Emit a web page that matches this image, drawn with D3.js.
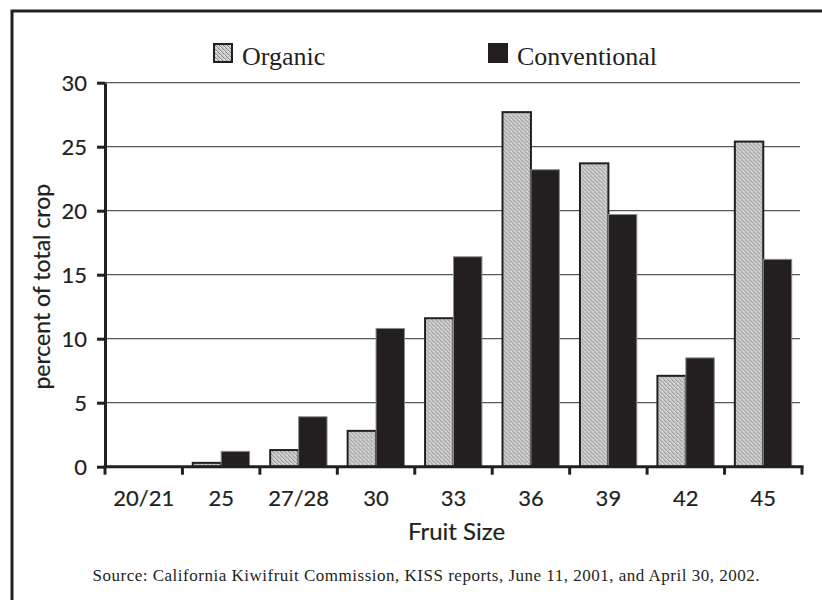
<!DOCTYPE html>
<html>
<head>
<meta charset="utf-8">
<script src="https://cdn.jsdelivr.net/npm/d3@7"></script>
<style>
  body { margin: 0; background: #fff; }
  svg { display: block; }
  .tick text, .title { font-family: Lato, sans-serif; fill: #231f20; stroke: #231f20; stroke-width: 0.2px; }
  .tick text { font-size: 22px; }
</style>
</head>
<body>
<svg id="chart" width="822" height="600"></svg>
<script>
// fruit size categories and percent of total crop
var sizes = ['20/21', '25', '27/28', '30', '33', '36', '39', '42', '45'];
var organic = [0, 0.3, 1.3, 2.8, 11.6, 27.7, 23.7, 7.1, 25.4];
var conventional = [0, 1.2, 3.9, 10.8, 16.4, 23.2, 19.7, 8.5, 16.2];
var series = ['Organic', 'Conventional'];
var yTicks = [0, 5, 10, 15, 20, 25, 30];

var ink = '#231f20';
var svg = d3.select('#chart');

var margin = {left: 105, right: 20, top: 82.7, bottom: 133.3};
var width = 822 - margin.left - margin.right;
var height = 600 - margin.top - margin.bottom;

// organic fill texture
var defs = svg.append('defs');
var pat = defs.append('pattern')
  .attr('id', 'stipple')
  .attr('patternUnits', 'userSpaceOnUse')
  .attr('width', 4)
  .attr('height', 4);
pat.append('rect').attr('width', 4).attr('height', 4).attr('fill', '#d0d0d0');
pat.append('path').attr('d', 'M0,0L4,4M-1,3L1,5M3,-1L5,1')
  .attr('stroke', '#828282').attr('stroke-width', 1);
pat.append('rect').attr('x', 3).attr('y', 0).attr('width', 1).attr('height', 1).attr('fill', '#fff');

// frame
svg.append('path')
  .attr('d', 'M12,600V11H822')
  .attr('fill', 'none')
  .attr('stroke', ink)
  .attr('stroke-width', 3);

var g = svg.append('g').attr('transform', 'translate(' + margin.left + ',' + margin.top + ')');

var x = d3.scaleBand().domain(sizes).range([0, width]).paddingInner(0).paddingOuter(0);
var x1 = d3.scaleBand().domain(series).range([10.3, x.bandwidth() - 10.3]);
var y = d3.scaleLinear().domain([0, 30]).range([height, 0]);

// gridlines
g.selectAll('.grid')
  .data(yTicks.filter(function(d) { return d > 0; }))
  .enter().append('line')
  .attr('class', 'grid')
  .attr('x1', 0)
  .attr('x2', width - 2)
  .attr('y1', y)
  .attr('y2', y)
  .attr('stroke', '#58595b')
  .attr('stroke-width', 1.2);

// bars
var groups = g.selectAll('.group')
  .data(sizes)
  .enter().append('g')
  .attr('class', 'group')
  .attr('transform', function(d) { return 'translate(' + x(d) + ',0)'; });

groups.append('rect')
  .filter(function(d, i) { return organic[i] > 0; })
  .attr('x', x1('Organic'))
  .attr('width', x1.bandwidth())
  .attr('y', function(d) { return y(organic[sizes.indexOf(d)]); })
  .attr('height', function(d) { return height - y(organic[sizes.indexOf(d)]); })
  .attr('fill', 'url(#stipple)')
  .attr('stroke', ink)
  .attr('stroke-width', 2);

groups.append('rect')
  .filter(function(d, i) { return conventional[i] > 0; })
  .attr('x', x1('Conventional'))
  .attr('width', x1.bandwidth())
  .attr('y', function(d) { return y(conventional[sizes.indexOf(d)]); })
  .attr('height', function(d) { return height - y(conventional[sizes.indexOf(d)]); })
  .attr('fill', ink)
  .attr('stroke', '#8a8a8a')
  .attr('stroke-width', 1);

// y axis
var yAxis = d3.axisLeft(y).tickValues(yTicks).tickSize(8).tickSizeOuter(0).tickPadding(10);
var ya = g.append('g').call(yAxis);
ya.select('.domain').attr('stroke', ink).attr('stroke-width', 3);
ya.selectAll('.tick line').attr('stroke', ink).attr('stroke-width', 3);
ya.selectAll('.tick text').attr('dy', '0.36em');

// x axis, labels centred in bands, ticks at band edges
var xAxis = d3.axisBottom(x).tickSize(0).tickPadding(24);
var xa = g.append('g').attr('transform', 'translate(0,' + height + ')').call(xAxis);
xa.select('.domain').remove();
xa.append('line')
  .attr('x1', -1.5).attr('x2', width + 1.5)
  .attr('stroke', ink).attr('stroke-width', 3);
xa.selectAll('.edge')
  .data(sizes.map(function(d) { return x(d); }).concat([width]))
  .enter().append('line')
  .attr('class', 'edge')
  .attr('x1', function(d) { return d; })
  .attr('x2', function(d) { return d; })
  .attr('y1', 0).attr('y2', 8)
  .attr('stroke', ink).attr('stroke-width', 3);

// axis titles
g.append('text')
  .attr('class', 'title')
  .attr('x', width / 2 + 3)
  .attr('y', height + 73)
  .attr('text-anchor', 'middle')
  .attr('font-size', 24)
  .text('Fruit Size');

g.append('text')
  .attr('class', 'title')
  .attr('transform', 'translate(-55,' + (height / 2 + 12) + ') rotate(-90)')
  .attr('text-anchor', 'middle')
  .attr('font-size', 23)
  .text('percent of total crop');

// legend
var legendX = [213, 488];
var legend = svg.selectAll('.legend')
  .data(series)
  .enter().append('g')
  .attr('class', 'legend')
  .attr('transform', function(d, i) { return 'translate(' + legendX[i] + ',43)'; });

legend.append('rect')
  .attr('x', 1).attr('y', 1)
  .attr('width', 18).attr('height', 18)
  .attr('fill', function(d) { return d === 'Organic' ? 'url(#stipple)' : ink; })
  .attr('stroke', ink)
  .attr('stroke-width', 2);

legend.append('text')
  .attr('x', 29)
  .attr('y', 22)
  .attr('font-family', '"Liberation Serif", serif')
  .attr('font-size', 26)
  .attr('fill', ink)
  .text(function(d) { return d; });

// source note
svg.append('text')
  .attr('x', 426)
  .attr('y', 581)
  .attr('text-anchor', 'middle')
  .attr('font-family', '"Liberation Serif", serif')
  .attr('font-size', 17)
  .attr('textLength', 667)
  .attr('lengthAdjust', 'spacing')
  .attr('fill', ink)
  .text('Source: California Kiwifruit Commission, KISS reports, June 11, 2001, and April 30, 2002.');
</script>
</body>
</html>
